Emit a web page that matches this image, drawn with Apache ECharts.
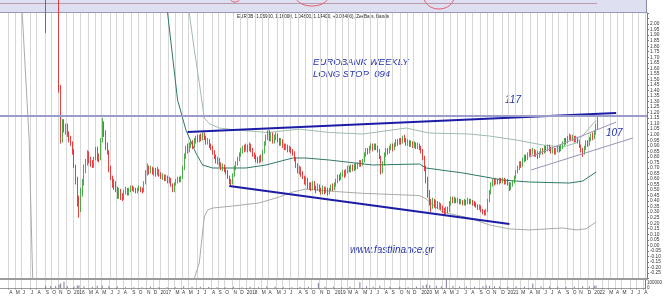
<!DOCTYPE html>
<html><head><meta charset="utf-8">
<script src="https://cdn.jsdelivr.net/npm/echarts@6/dist/echarts.min.js"></script>
<style>html,body{margin:0;padding:0;background:#fff}#c{width:665px;height:297px}</style>
</head><body><div id="c"></div>
<script>
// ---- categories (weekly bars) ----
const startDate = '2015-03-02';
const weekCount = 388;
const monthLetters = ['J','F','M','A','M','J','J','A','S','O','N','D'];
// ---- candles: [open, close, low, high], first one is week index firstBarWeek ----
const firstBarWeek = 27;
const ohlc = [
/*27*/[2.40,2.02,1.92,2.45],[2.30,2.50,2.20,2.60],[2.50,2.70,2.40,2.80],[2.70,2.60,2.50,2.80],[2.60,2.80,2.50,2.90],[2.80,2.70,2.60,2.90],[2.70,2.90,2.60,3.00],[2.90,2.80,2.70,3.00],
/*35*/[2.80,1.40,1.38,2.90],[1.40,0.95,0.92,1.45],[0.96,1.12,0.93,1.14],[1.12,1.05,1.02,1.14],[1.05,1.08,1.00,1.10],[1.08,1.00,0.98,1.10],[1.00,0.96,0.93,1.03],[0.97,0.92,0.90,0.99],[0.92,0.85,0.82,0.94],
/*44*/[0.85,0.72,0.70,0.87],[0.72,0.60,0.55,0.73],[0.60,0.40,0.35,0.62],[0.40,0.32,0.25,0.45],[0.33,0.48,0.30,0.52],[0.48,0.56,0.44,0.60],[0.56,0.70,0.54,0.73],[0.70,0.75,0.65,0.78],[0.75,0.82,0.72,0.86],
/*53*/[0.82,0.78,0.74,0.85],[0.78,0.74,0.71,0.80],[0.74,0.72,0.70,0.77],[0.72,0.79,0.70,0.80],[0.79,0.87,0.77,0.89],[0.87,0.80,0.76,0.89],[0.80,0.78,0.75,0.83],[0.78,0.95,0.77,0.97],[0.95,1.10,0.93,1.15],
/*62*/[1.10,1.02,0.98,1.12],[1.02,0.90,0.86,1.04],[0.90,0.84,0.82,0.93],[0.84,0.70,0.66,0.86],[0.70,0.62,0.59,0.72],[0.62,0.57,0.52,0.63],[0.57,0.56,0.50,0.60],[0.56,0.52,0.48,0.58],[0.52,0.45,0.42,0.53],
/*71*/[0.45,0.49,0.42,0.52],[0.49,0.44,0.41,0.51],[0.44,0.43,0.40,0.47],[0.43,0.48,0.41,0.50],[0.48,0.50,0.46,0.53],[0.50,0.47,0.45,0.52],[0.47,0.50,0.45,0.52],[0.50,0.52,0.48,0.54],[0.52,0.50,0.49,0.54],
/*80*/[0.50,0.51,0.48,0.53],[0.51,0.49,0.47,0.52],[0.49,0.50,0.47,0.52],[0.50,0.52,0.49,0.54],[0.52,0.50,0.48,0.53],[0.50,0.49,0.47,0.52],[0.49,0.56,0.48,0.58],[0.56,0.66,0.55,0.68],[0.66,0.70,0.63,0.74],
/*89*/[0.70,0.67,0.64,0.72],[0.67,0.70,0.65,0.72],[0.70,0.66,0.64,0.71],[0.66,0.68,0.63,0.70],[0.68,0.65,0.62,0.70],[0.65,0.68,0.63,0.71],[0.68,0.64,0.62,0.69],[0.64,0.62,0.60,0.66],[0.62,0.63,0.59,0.65],
/*98*/[0.63,0.60,0.58,0.64],[0.60,0.62,0.58,0.64],[0.62,0.58,0.56,0.63],[0.58,0.60,0.56,0.62],[0.60,0.55,0.53,0.61],[0.55,0.50,0.48,0.56],[0.50,0.55,0.48,0.57],[0.55,0.58,0.54,0.60],[0.58,0.60,0.56,0.62],
/*107*/[0.60,0.59,0.57,0.62],[0.59,0.61,0.57,0.63],[0.61,0.70,0.60,0.72],[0.70,0.80,0.68,0.83],[0.80,0.88,0.78,0.90],[0.88,0.85,0.83,0.92],[0.85,0.90,0.84,0.93],[0.90,0.93,0.88,0.95],[0.93,0.89,0.87,0.95],
/*116*/[0.89,0.94,0.88,0.97],[0.94,0.97,0.92,0.99],[0.97,0.95,0.93,1.00],[0.95,0.98,0.93,1.00],[0.98,0.96,0.94,1.01],[0.96,1.00,0.95,1.02],[1.00,0.97,0.95,1.02],[0.97,0.93,0.91,0.99],[0.93,0.95,0.91,0.97],
/*125*/[0.95,0.90,0.88,0.96],[0.90,0.88,0.86,0.92],[0.88,0.84,0.82,0.90],[0.84,0.80,0.78,0.86],[0.80,0.76,0.74,0.82],[0.76,0.78,0.73,0.80],[0.78,0.73,0.71,0.79],[0.73,0.70,0.68,0.75],[0.70,0.72,0.67,0.74],
/*134*/[0.72,0.68,0.66,0.73],[0.68,0.66,0.64,0.70],[0.66,0.62,0.60,0.68],[0.62,0.58,0.55,0.63],[0.58,0.56,0.53,0.60],[0.56,0.63,0.55,0.65],[0.63,0.70,0.62,0.72],[0.70,0.74,0.68,0.76],[0.74,0.78,0.72,0.80],
/*143*/[0.78,0.82,0.76,0.84],[0.82,0.85,0.80,0.88],[0.85,0.88,0.83,0.90],[0.88,0.86,0.84,0.91],[0.86,0.89,0.85,0.92],[0.89,0.87,0.84,0.91],[0.87,0.90,0.85,0.93],[0.90,0.86,0.84,0.92],[0.86,0.82,0.80,0.88],
/*152*/[0.82,0.80,0.78,0.84],[0.80,0.78,0.75,0.82],[0.78,0.76,0.74,0.80],[0.76,0.79,0.74,0.81],[0.79,0.77,0.75,0.82],[0.77,0.84,0.76,0.86],[0.84,0.92,0.83,0.94],[0.92,0.98,0.90,1.00],[0.98,1.02,0.95,1.04],
/*161*/[1.02,0.96,0.94,1.04],[0.96,1.00,0.94,1.02],[1.00,0.94,0.92,1.02],[0.94,0.98,0.92,1.00],[0.98,1.00,0.95,1.02],[1.00,0.95,0.93,1.01],[0.95,0.92,0.90,0.97],[0.92,0.95,0.90,0.97],[0.95,0.90,0.88,0.96],
/*170*/[0.90,0.88,0.86,0.92],[0.88,0.90,0.86,0.92],[0.90,0.86,0.84,0.91],[0.86,0.88,0.84,0.90],[0.88,0.85,0.83,0.89],[0.85,0.83,0.81,0.87],[0.83,0.78,0.76,0.85],[0.78,0.72,0.70,0.80],[0.72,0.68,0.65,0.74],
/*179*/[0.68,0.70,0.64,0.72],[0.70,0.64,0.62,0.71],[0.64,0.62,0.60,0.67],[0.62,0.58,0.55,0.63],[0.58,0.60,0.54,0.62],[0.60,0.53,0.51,0.61],[0.53,0.55,0.50,0.57],[0.55,0.51,0.49,0.57],[0.51,0.56,0.50,0.58],
/*188*/[0.56,0.52,0.50,0.58],[0.52,0.50,0.47,0.54],[0.50,0.54,0.49,0.56],[0.54,0.50,0.48,0.55],[0.50,0.48,0.46,0.52],[0.48,0.52,0.46,0.54],[0.52,0.49,0.46,0.53],[0.49,0.51,0.47,0.53],[0.51,0.48,0.45,0.52],
/*197*/[0.48,0.50,0.46,0.52],[0.50,0.53,0.49,0.55],[0.53,0.51,0.49,0.56],[0.51,0.55,0.50,0.57],[0.55,0.58,0.53,0.60],[0.58,0.62,0.56,0.64],[0.62,0.60,0.58,0.64],[0.60,0.64,0.59,0.66],[0.64,0.66,0.62,0.68],
/*206*/[0.66,0.63,0.61,0.68],[0.63,0.67,0.62,0.69],[0.67,0.70,0.65,0.72],[0.70,0.68,0.66,0.72],[0.68,0.71,0.66,0.73],[0.71,0.69,0.67,0.73],[0.69,0.72,0.67,0.74],[0.72,0.70,0.68,0.74],[0.70,0.73,0.69,0.75],
/*215*/[0.73,0.75,0.71,0.77],[0.75,0.73,0.71,0.77],[0.73,0.76,0.72,0.78],[0.76,0.82,0.75,0.84],[0.82,0.86,0.80,0.88],[0.86,0.84,0.82,0.88],[0.84,0.88,0.83,0.90],[0.88,0.90,0.86,0.92],[0.90,0.87,0.85,0.92],
/*224*/[0.87,0.90,0.86,0.92],[0.90,0.88,0.86,0.92],[0.88,0.86,0.84,0.90],[0.86,0.80,0.78,0.87],[0.80,0.66,0.64,0.81],[0.66,0.74,0.65,0.76],[0.74,0.82,0.72,0.84],[0.82,0.86,0.80,0.88],[0.86,0.84,0.82,0.88],
/*233*/[0.84,0.88,0.83,0.90],[0.88,0.90,0.86,0.92],[0.90,0.87,0.85,0.92],[0.87,0.91,0.86,0.93],[0.91,0.94,0.89,0.96],[0.94,0.92,0.90,0.96],[0.92,0.95,0.91,0.97],[0.95,0.93,0.91,0.97],[0.93,0.97,0.92,0.99],
/*242*/[0.97,0.95,0.93,1.00],[0.95,0.92,0.90,0.97],[0.92,0.94,0.90,0.96],[0.94,0.91,0.89,0.95],[0.91,0.93,0.89,0.95],[0.93,0.90,0.88,0.94],[0.90,0.92,0.88,0.94],[0.92,0.89,0.87,0.93],[0.89,0.91,0.87,0.93],
/*251*/[0.91,0.88,0.86,0.92],[0.88,0.85,0.83,0.90],[0.85,0.80,0.77,0.87],[0.80,0.70,0.67,0.81],[0.70,0.60,0.56,0.72],[0.60,0.48,0.43,0.62],[0.48,0.40,0.36,0.50],[0.40,0.35,0.30,0.42],[0.35,0.40,0.33,0.43],
/*260*/[0.40,0.37,0.34,0.42],[0.37,0.39,0.33,0.41],[0.39,0.35,0.33,0.40],[0.35,0.37,0.33,0.39],[0.37,0.34,0.32,0.38],[0.34,0.32,0.29,0.36],[0.32,0.30,0.27,0.34],[0.30,0.33,0.28,0.35],[0.33,0.31,0.29,0.35],
/*269*/[0.31,0.38,0.30,0.40],[0.38,0.42,0.36,0.44],[0.42,0.40,0.38,0.44],[0.40,0.42,0.38,0.44],[0.42,0.40,0.38,0.43],[0.40,0.41,0.38,0.43],[0.41,0.39,0.37,0.42],[0.39,0.40,0.37,0.42],[0.40,0.38,0.36,0.41],
/*278*/[0.38,0.40,0.36,0.42],[0.40,0.38,0.36,0.41],[0.38,0.41,0.37,0.43],[0.41,0.39,0.37,0.42],[0.39,0.40,0.37,0.42],[0.40,0.38,0.36,0.41],[0.38,0.37,0.35,0.40],[0.37,0.36,0.34,0.39],[0.36,0.34,0.32,0.37],
/*287*/[0.34,0.35,0.32,0.37],[0.35,0.32,0.30,0.36],[0.32,0.30,0.28,0.33],[0.30,0.29,0.27,0.32],[0.29,0.31,0.27,0.33],[0.31,0.40,0.30,0.42],[0.40,0.48,0.39,0.50],[0.48,0.55,0.46,0.57],[0.55,0.58,0.53,0.60],
/*296*/[0.58,0.56,0.54,0.60],[0.56,0.59,0.55,0.61],[0.59,0.57,0.55,0.60],[0.57,0.59,0.55,0.61],[0.59,0.58,0.56,0.61],[0.58,0.60,0.56,0.61],[0.60,0.57,0.55,0.61],[0.57,0.59,0.55,0.60],[0.59,0.56,0.54,0.60],
/*305*/[0.56,0.52,0.49,0.57],[0.52,0.55,0.50,0.57],[0.55,0.57,0.53,0.59],[0.57,0.61,0.56,0.63],[0.61,0.66,0.60,0.68],[0.66,0.70,0.65,0.72],[0.70,0.74,0.68,0.76],[0.74,0.72,0.70,0.76],[0.72,0.77,0.71,0.79],
/*314*/[0.77,0.80,0.75,0.82],[0.80,0.78,0.76,0.82],[0.78,0.82,0.77,0.84],[0.82,0.85,0.80,0.87],[0.85,0.83,0.81,0.87],[0.83,0.86,0.82,0.88],[0.86,0.82,0.80,0.87],[0.82,0.84,0.80,0.86],[0.84,0.80,0.78,0.85],
/*323*/[0.80,0.83,0.79,0.85],[0.83,0.86,0.82,0.88],[0.86,0.84,0.82,0.88],[0.84,0.88,0.83,0.90],[0.88,0.86,0.84,0.90],[0.86,0.89,0.85,0.91],[0.89,0.87,0.85,0.91],[0.87,0.85,0.83,0.89],[0.85,0.87,0.83,0.89],
/*332*/[0.87,0.84,0.82,0.88],[0.84,0.86,0.82,0.88],[0.86,0.88,0.84,0.90],[0.88,0.86,0.84,0.90],[0.86,0.89,0.85,0.91],[0.89,0.92,0.87,0.94],[0.92,0.95,0.90,0.97],[0.95,0.93,0.91,0.97],[0.93,0.97,0.92,0.99],
/*341*/[0.97,0.99,0.95,1.01],[0.99,0.96,0.94,1.00],[0.96,0.98,0.94,1.00],[0.98,0.95,0.93,0.99],[0.95,0.97,0.93,0.99],[0.97,0.94,0.92,0.98],[0.94,0.90,0.88,0.95],[0.90,0.86,0.84,0.91],[0.86,0.84,0.80,0.88],
/*350*/[0.84,0.88,0.82,0.90],[0.88,0.93,0.86,0.95],[0.93,0.91,0.89,0.95],[0.91,0.96,0.90,0.98],[0.96,0.99,0.94,1.01],[0.99,0.97,0.95,1.02],[0.97,1.02,0.96,1.04],[1.02,1.07,1.00,1.10],[1.069,1.144,1.048,1.16]
];
// ---- envelope bands: [weekIndex, price] ----
const upperBand = [[110,2.6],[113,2.1],[116,1.77],[119,1.47],[122,1.15],[125,1.10],[131,1.06],[143,1.04],[160,1.02],[179,1.05],[197,1.02],[217,1.006],[243,1.06],[257,1.015],[281,1.006],[293,0.988],[309,0.952],[325,0.907],[337,0.889],[345,0.925],[357,1.13]];
const middleBand = [[98,2.6],[100,2.1],[106,1.313],[111,1.042],[117,0.834],[121,0.726],[127,0.699],[147,0.699],[159,0.726],[175,0.789],[183,0.789],[197,0.771],[223,0.726],[251,0.735],[255,0.699],[277,0.654],[301,0.590],[317,0.572],[341,0.563],[349,0.581],[357,0.663]];
const lowerBand = [[11,2.6],[13,2.05],[17,0.95],[19,-0.25],[20,-0.6],[114,-0.6],[116,-0.30],[119,-0.16],[122,0.256],[124,0.319],[127,0.337],[139,0.355],[155,0.383],[167,0.437],[175,0.482],[183,0.509],[197,0.49],[217,0.47],[251,0.45],[255,0.42],[258,0.38],[265,0.30],[281,0.247],[293,0.184],[305,0.148],[317,0.139],[337,0.157],[345,0.139],[351,0.15],[357,0.211]];
// ---- hand-drawn lines ----
const trendUpper = [[112,1.024],[369,1.196]];
const trendLower = [[137,0.536],[305,0.193]];
const channelUpper = [[317,0.798],[369,1.114]];
const channelLower = [[318,0.681],[379,0.970]];
const resistanceLevel = 1.17;
// ---- volume: [weekIndex, shares] ----
const volume = [[27,40000],[30,30000],[33,35000],[35,60000],[36,80000],[38,110000],[40,30000],[44,25000],[46,45000],[47,50000],[50,30000],[55,20000],[58,40000],[61,45000],[65,30000],[70,25000],[75,15000],[80,15000],[85,12000],[90,20000],[95,15000],[100,15000],[105,12000],[110,30000],[115,20000],[120,20000],[125,18000],[130,15000],[135,15000],[140,20000],[145,15000],[150,20000],[155,15000],[160,25000],[165,20000],[170,15000],[175,15000],[180,20000],[185,20000],[191,90000],[195,20000],[200,20000],[205,15000],[210,25000],[216,100000],[220,30000],[224,20000],[228,40000],[234,20000],[240,20000],[245,15000],[250,25000],[254,45000],[256,60000],[258,50000],[262,40000],[265,30000],[268,150000],[272,40000],[276,25000],[280,25000],[285,20000],[290,30000],[292,45000],[294,40000],[297,30000],[300,25000],[305,20000],[310,30000],[315,25000],[320,80000],[325,25000],[330,25000],[335,20000],[340,20000],[345,25000],[350,30000],[354,30000],[357,40000],[358,45000]];

// ---- build ----
const cats = [];
const d0 = new Date(startDate + 'T00:00:00Z');
for (let i = 0; i < weekCount; i++) {
  const d = new Date(d0.getTime() + i * 7 * 864e5);
  cats.push(d.toISOString().slice(0, 10));
}
function isMonthStart(i) { return i > 0 && cats[i].slice(5, 7) !== cats[i - 1].slice(5, 7); }
function monthLabel(v) { const m = +v.slice(5, 7); if (m === 2) return ''; return m === 1 ? v.slice(0, 4) : monthLetters[m - 1]; }
const candleData = cats.map((c, i) => {
  const k = i - firstBarWeek;
  return (k >= 0 && k < ohlc.length) ? ohlc[k] : '-';
});

const FONT = '"Liberation Sans", Arial, sans-serif';
const blue = '#2433a8';
const chart = echarts.init(document.getElementById('c'), null, { renderer: 'canvas' });
chart.setOption({
  animation: false,
  backgroundColor: '#ffffff',
  grid: [
    { left: 0, top: 13, width: 647, height: 265.5 },
    { left: 0, top: 279.5, width: 647, height: 8.5 }
  ],
  xAxis: [
    { type: 'category', gridIndex: 0, data: cats, boundaryGap: true,
      axisLabel: { show: false }, axisTick: { show: false },
      axisLine: { show: true, onZero: false, lineStyle: { color: '#9c9c9c', width: 2 } },
      splitLine: { show: true, interval: (i) => isMonthStart(i), lineStyle: { color: '#d6d6d6', width: 1 } } },
    { type: 'category', gridIndex: 1, data: cats, boundaryGap: true,
      axisLabel: { show: true, interval: (i) => isMonthStart(i), formatter: monthLabel, fontSize: 4.8, color: '#333',
        fontFamily: FONT, margin: 2.5, align: 'left', hideOverlap: false },
      axisTick: { show: true, interval: (i) => isMonthStart(i), length: 1.5, lineStyle: { color: '#888' } },
      axisLine: { show: true, onZero: false, lineStyle: { color: '#9c9c9c', width: 1 } },
      splitLine: { show: true, interval: (i) => isMonthStart(i), lineStyle: { color: '#d6d6d6', width: 1 } } }
  ],
  yAxis: [
    { type: 'value', gridIndex: 0, position: 'right', min: -0.30, max: 2.10, interval: 0.05, scale: true,
      axisLine: { show: true, lineStyle: { color: '#777', width: 1 } },
      axisTick: { show: true, length: 2, lineStyle: { color: '#777' } },
      splitLine: { show: false },
      axisLabel: { show: true, fontSize: 4.8, color: '#333', fontFamily: FONT, margin: 3,
        formatter: (v) => { if (v < -0.26 || v > 2.01) return ''; if (Math.abs(v) < 1e-9) return '0.00'; return v.toFixed(2); } } },
    { type: 'value', gridIndex: 1, position: 'right', min: 0, max: 150000, interval: 50000,
      axisLine: { show: true, lineStyle: { color: '#777', width: 1 } },
      axisTick: { show: false }, splitLine: { show: false },
      axisLabel: { show: true, fontSize: 4.5, color: '#333', fontFamily: FONT, margin: 2,
        formatter: (v) => (v === 100000 ? '100000' : (v === 0 ? '0' : '')) } }
  ],
  series: [
    { type: 'line', name: 'upper', xAxisIndex: 0, yAxisIndex: 0, data: upperBand, symbol: 'none', clip: true,
      lineStyle: { color: '#9fbcae', width: 1 }, z: 2, silent: true },
    { type: 'line', name: 'middle', xAxisIndex: 0, yAxisIndex: 0, data: middleBand, symbol: 'none', clip: true,
      lineStyle: { color: '#2f7868', width: 1 }, z: 2, silent: true },
    { type: 'line', name: 'lower', xAxisIndex: 0, yAxisIndex: 0, data: lowerBand, symbol: 'none', clip: true,
      lineStyle: { color: '#a6aca6', width: 1 }, z: 2, silent: true },
    { type: 'candlestick', name: 'EUROB', xAxisIndex: 0, yAxisIndex: 0, data: candleData, clip: true,
      barWidth: 1.3, z: 3,
      itemStyle: { color: '#2f9a30', color0: '#e01c1c', borderColor: '#3aa23a', borderColor0: '#e42a2a', borderWidth: 0.9 },
      markLine: { silent: true, symbol: 'none', label: { show: false },
        lineStyle: { color: '#9c9cca', width: 2, type: 'solid' },
        data: [{ yAxis: resistanceLevel }] } },
    { type: 'line', name: 'trendUpper', xAxisIndex: 0, yAxisIndex: 0, data: trendUpper, symbol: 'none',
      lineStyle: { color: '#1c1ca6', width: 2 }, z: 4, silent: true },
    { type: 'line', name: 'trendLower', xAxisIndex: 0, yAxisIndex: 0, data: trendLower, symbol: 'none',
      lineStyle: { color: '#1c1ca6', width: 2 }, z: 4, silent: true },
    { type: 'line', name: 'channelUpper', xAxisIndex: 0, yAxisIndex: 0, data: channelUpper, symbol: 'none',
      lineStyle: { color: '#a090b8', width: 1 }, z: 4, silent: true },
    { type: 'line', name: 'channelLower', xAxisIndex: 0, yAxisIndex: 0, data: channelLower, symbol: 'none',
      lineStyle: { color: '#a090b8', width: 1 }, z: 4, silent: true },
    { type: 'bar', name: 'volume', xAxisIndex: 1, yAxisIndex: 1, data: volume, barWidth: 1,
      itemStyle: { color: '#7c7c9c' }, silent: true }
  ],
  graphic: [
    { type: 'rect', shape: { x: 0, y: 0, width: 646, height: 13 }, style: { fill: '#dfdff2' }, silent: true },
    { type: 'line', shape: { x1: 0, y1: 3.5, x2: 597, y2: 3.5 }, style: { stroke: '#b89aa8', lineWidth: 1 }, silent: true },
    { type: 'line', shape: { x1: 0, y1: 12.5, x2: 647, y2: 12.5 }, style: { stroke: '#9898b8', lineWidth: 1 }, silent: true },
    { type: 'line', shape: { x1: 646.5, y1: 0, x2: 646.5, y2: 13 }, style: { stroke: '#8888a8', lineWidth: 1 }, silent: true },
    { type: 'ellipse', shape: { cx: 312, cy: -3, rx: 16, ry: 9 }, style: { fill: null, stroke: '#e06070', lineWidth: 1 }, silent: true },
    { type: 'ellipse', shape: { cx: 439, cy: -3, rx: 15, ry: 12 }, style: { fill: null, stroke: '#e06070', lineWidth: 1 }, silent: true },
    { type: 'ellipse', shape: { cx: 235, cy: -4, rx: 6, ry: 6 }, style: { fill: null, stroke: '#e06070', lineWidth: 1 }, silent: true },
    { type: 'text', x: 237, y: 17, silent: true,
      style: { text: 'EUROB (1.06900, 1.16000, 1.04800, 1.14400, +0.08400), ZeeBars, Bands', fill: '#222',
        font: '4.6px ' + FONT, verticalAlign: 'middle' } },
    { type: 'text', x: 313, y: 62, silent: true,
      style: { text: 'EUROBANK WEEKLY', fill: blue, font: 'italic 9.6px ' + FONT, verticalAlign: 'middle' } },
    { type: 'text', x: 313, y: 74, silent: true,
      style: { text: 'LONG STOP  094', fill: blue, font: 'italic 9.6px ' + FONT, verticalAlign: 'middle' } },
    { type: 'text', x: 505, y: 100, silent: true,
      style: { text: '117', fill: blue, font: 'italic 10px ' + FONT, verticalAlign: 'middle' } },
    { type: 'text', x: 606, y: 133, silent: true,
      style: { text: '107', fill: blue, font: 'italic 10px ' + FONT, verticalAlign: 'middle' } },
    { type: 'text', x: 350, y: 250, silent: true,
      style: { text: 'www.fastfinance.gr', fill: blue, font: 'italic 10px ' + FONT, verticalAlign: 'middle' } }
  ]
});
</script>
</body></html>
